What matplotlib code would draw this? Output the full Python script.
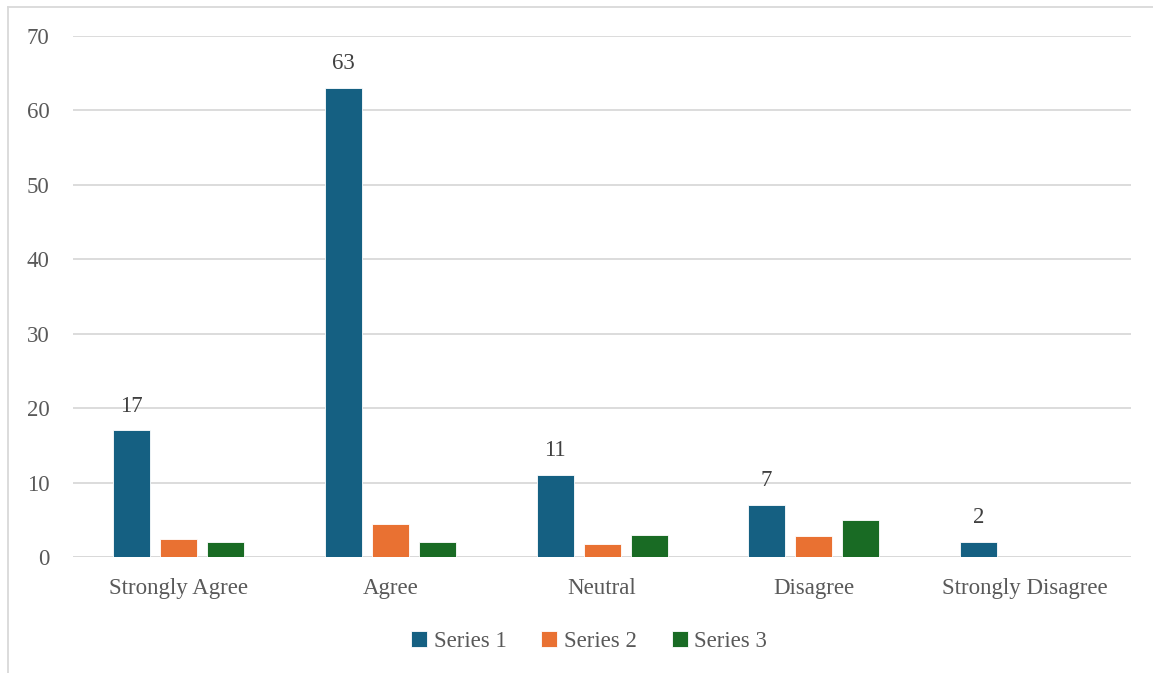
import matplotlib
matplotlib.use("Agg")
import matplotlib.pyplot as plt
from matplotlib.lines import Line2D
import numpy as np

categories = ["Strongly Agree", "Agree", "Neutral", "Disagree", "Strongly Disagree"]
series_names = ["Series 1", "Series 2", "Series 3"]
series1 = [17, 63, 11, 7, 2]
series2 = [2.4, 4.4, 1.8, 2.8, 0]
series3 = [2, 2, 3, 5, 0]
y_ticks = [0, 10, 20, 30, 40, 50, 60, 70]

colors = ["#156082", "#E97132", "#196B24"]
text_color = "#595959"
grid_color = "#D9D9D9"

plt.rcParams["font.family"] = ["Liberation Serif", "DejaVu Serif"]

fig = plt.figure(figsize=(11.53, 6.73), dpi=100)
ax = fig.add_axes([0.0633, 0.1724, 0.9177, 0.7741])

x = np.arange(len(categories))
width = 0.175
offset = 0.222
for i, (vals, name) in enumerate(zip([series1, series2, series3], series_names)):
    bars = ax.bar(x + (i - 1) * offset, vals, width, color=colors[i], label=name,
                  zorder=3, edgecolor="white", linewidth=0.6)
    if i == 0:
        for b, v in zip(bars, vals):
            ax.annotate(f"{v}", (b.get_x() + b.get_width() / 2, v),
                        xytext=(0, 10), textcoords="offset points",
                        ha="center", va="bottom", fontsize=16.5, color="#404040")

ax.set_xlim(-0.5, len(categories) - 0.5)
ax.set_ylim(0, 70)
ax.set_yticks(y_ticks)
ax.set_xticks(x)
ax.set_xticklabels(categories)
ax.tick_params(axis="both", length=0, labelsize=16.5, colors=text_color)
ax.tick_params(axis="y", pad=17)
ax.tick_params(axis="x", pad=15)
ax.yaxis.grid(True, color=grid_color, linewidth=1.3, zorder=0)
for s in ax.spines.values():
    s.set_visible(False)
ax.axhline(0, color=grid_color, linewidth=1.3, zorder=2)

leg = ax.legend(loc="upper center", bbox_to_anchor=(0.488, -0.102), ncol=3,
                frameon=False, fontsize=16.5, handlelength=0.7, handleheight=0.7,
                handletextpad=0.3, columnspacing=1.5, labelcolor=text_color)

# chart frame
fig.add_artist(Line2D([8 / 1153, 1], [1 - 7 / 673, 1 - 7 / 673], transform=fig.transFigure,
                      color=grid_color, linewidth=1.3))
fig.add_artist(Line2D([8 / 1153, 8 / 1153], [0, 1 - 7 / 673], transform=fig.transFigure,
                      color=grid_color, linewidth=1.3))

fig.savefig("out.png", dpi=100)
